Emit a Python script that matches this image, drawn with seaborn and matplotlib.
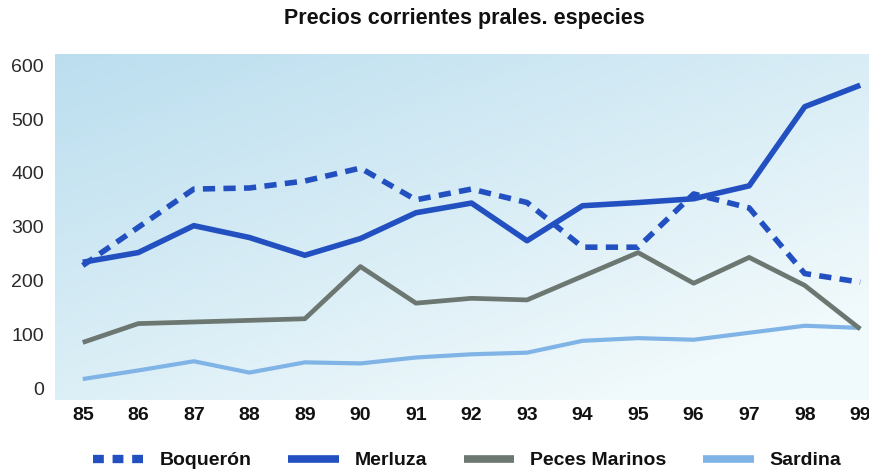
import numpy as np
import pandas as pd
import matplotlib
matplotlib.use("Agg")
import matplotlib.pyplot as plt
import seaborn as sns
from matplotlib.lines import Line2D

years = [85, 86, 87, 88, 89, 90, 91, 92, 93, 94, 95, 96, 97, 98, 99]
year_labels = ["85", "86", "87", "88", "89", "90", "91", "92", "93", "94", "95", "96", "97", "98", "99"]
boqueron = [228, 299, 370, 372, 385, 409, 350, 370, 345, 262, 262, 361, 335, 213, 197]
merluza = [234, 252, 302, 280, 247, 278, 326, 344, 274, 339, 345, 352, 376, 523, 563]
peces_marinos = [85, 120, 123, 126, 129, 226, 158, 167, 164, 208, 252, 195, 243, 191, 110]
sardina = [17, 33, 50, 29, 48, 46, 57, 63, 66, 88, 93, 90, 103, 116, 112]
series_names = ["Boquerón", "Merluza", "Peces Marinos", "Sardina"]
y_ticks = [0, 100, 200, 300, 400, 500, 600]
title = "Precios corrientes prales. especies"

df = pd.DataFrame({
    "year": years * 4,
    "value": boqueron + merluza + peces_marinos + sardina,
    "serie": [s for s in series_names for _ in years],
})

sns.set_theme(style="white")
plt.rcParams["font.family"] = ["Liberation Sans", "DejaVu Sans"]

fig = plt.figure(figsize=(8.7, 4.72), dpi=100)
ax = fig.add_axes([0.0632, 0.1525, 0.9345, 0.7331])

# background gradient
nx, ny = 200, 100
gx = np.linspace(0, 1, nx)
gy = np.linspace(0, 1, ny)
GX, GY = np.meshgrid(gx, gy)
t = np.clip(0.6 * GX + 0.7 * GY, 0, 1.1) / 1.1
c0 = np.array([0xbb, 0xde, 0xef]) / 255.0
c1 = np.array([0xf0, 0xf9, 0xfb]) / 255.0
img = c0[None, None, :] * (1 - t[..., None]) + c1[None, None, :] * t[..., None]
ax.imshow(img, extent=[0, 1, 0, 1], transform=ax.transAxes, aspect="auto",
          zorder=0, origin="upper")

palette = {"Boquerón": "#2350c0", "Merluza": "#2350c0",
           "Peces Marinos": "#6b7770", "Sardina": "#80b4e6"}
dashes = {"Boquerón": (2.2, 1.5), "Merluza": "", "Peces Marinos": "", "Sardina": ""}
widths = {"Boquerón": 4.0, "Merluza": 4.0, "Peces Marinos": 3.4, "Sardina": 3.0}

sns.lineplot(data=df, x="year", y="value", hue="serie", style="serie",
             palette=palette, dashes=dashes, hue_order=series_names,
             style_order=series_names, ax=ax, legend=False, zorder=3)
order_z = {"Boquerón": 5, "Merluza": 4, "Peces Marinos": 3, "Sardina": 2}
for line, name in zip(ax.get_lines(), series_names):
    line.set_linewidth(widths[name])
    line.set_solid_capstyle("butt")
    line.set_dash_capstyle("butt")
    line.set_zorder(order_z[name])

ax.set_xlim(84.5, 99.14)
ax.set_ylim(-22, 621)
ax.set_xticks(years)
ax.set_xticklabels(year_labels, fontsize=14, fontweight="bold", color="#111111")
ax.set_yticks(y_ticks)
ax.set_yticklabels([str(v) for v in y_ticks], fontsize=14, color="#2a2a2a")
ax.tick_params(axis="x", length=0, pad=5)
ax.tick_params(axis="y", length=0, pad=8)
ax.set_xlabel("")
ax.set_ylabel("")
for s in ax.spines.values():
    s.set_visible(False)

fig.text(0.534, 0.960, title, ha="center", va="center", fontsize=15.5,
         fontweight="bold", color="#111111")

handles = []
for name in series_names:
    if name == "Boquerón":
        h = Line2D([], [], color=palette[name], lw=6, dashes=(1.3, 1.05), dash_capstyle="butt")
    else:
        h = Line2D([], [], color=palette[name], lw=5.5, solid_capstyle="butt")
    handles.append(h)
leg = fig.legend(handles, series_names, loc="center", bbox_to_anchor=(0.537, 0.024),
                 ncol=4, frameon=False, prop={"weight": "bold", "size": 14},
                 handlelength=2.6, columnspacing=1.9, handletextpad=0.8)
for txt in leg.get_texts():
    txt.set_color("#111111")

fig.savefig("out.png", dpi=100)
